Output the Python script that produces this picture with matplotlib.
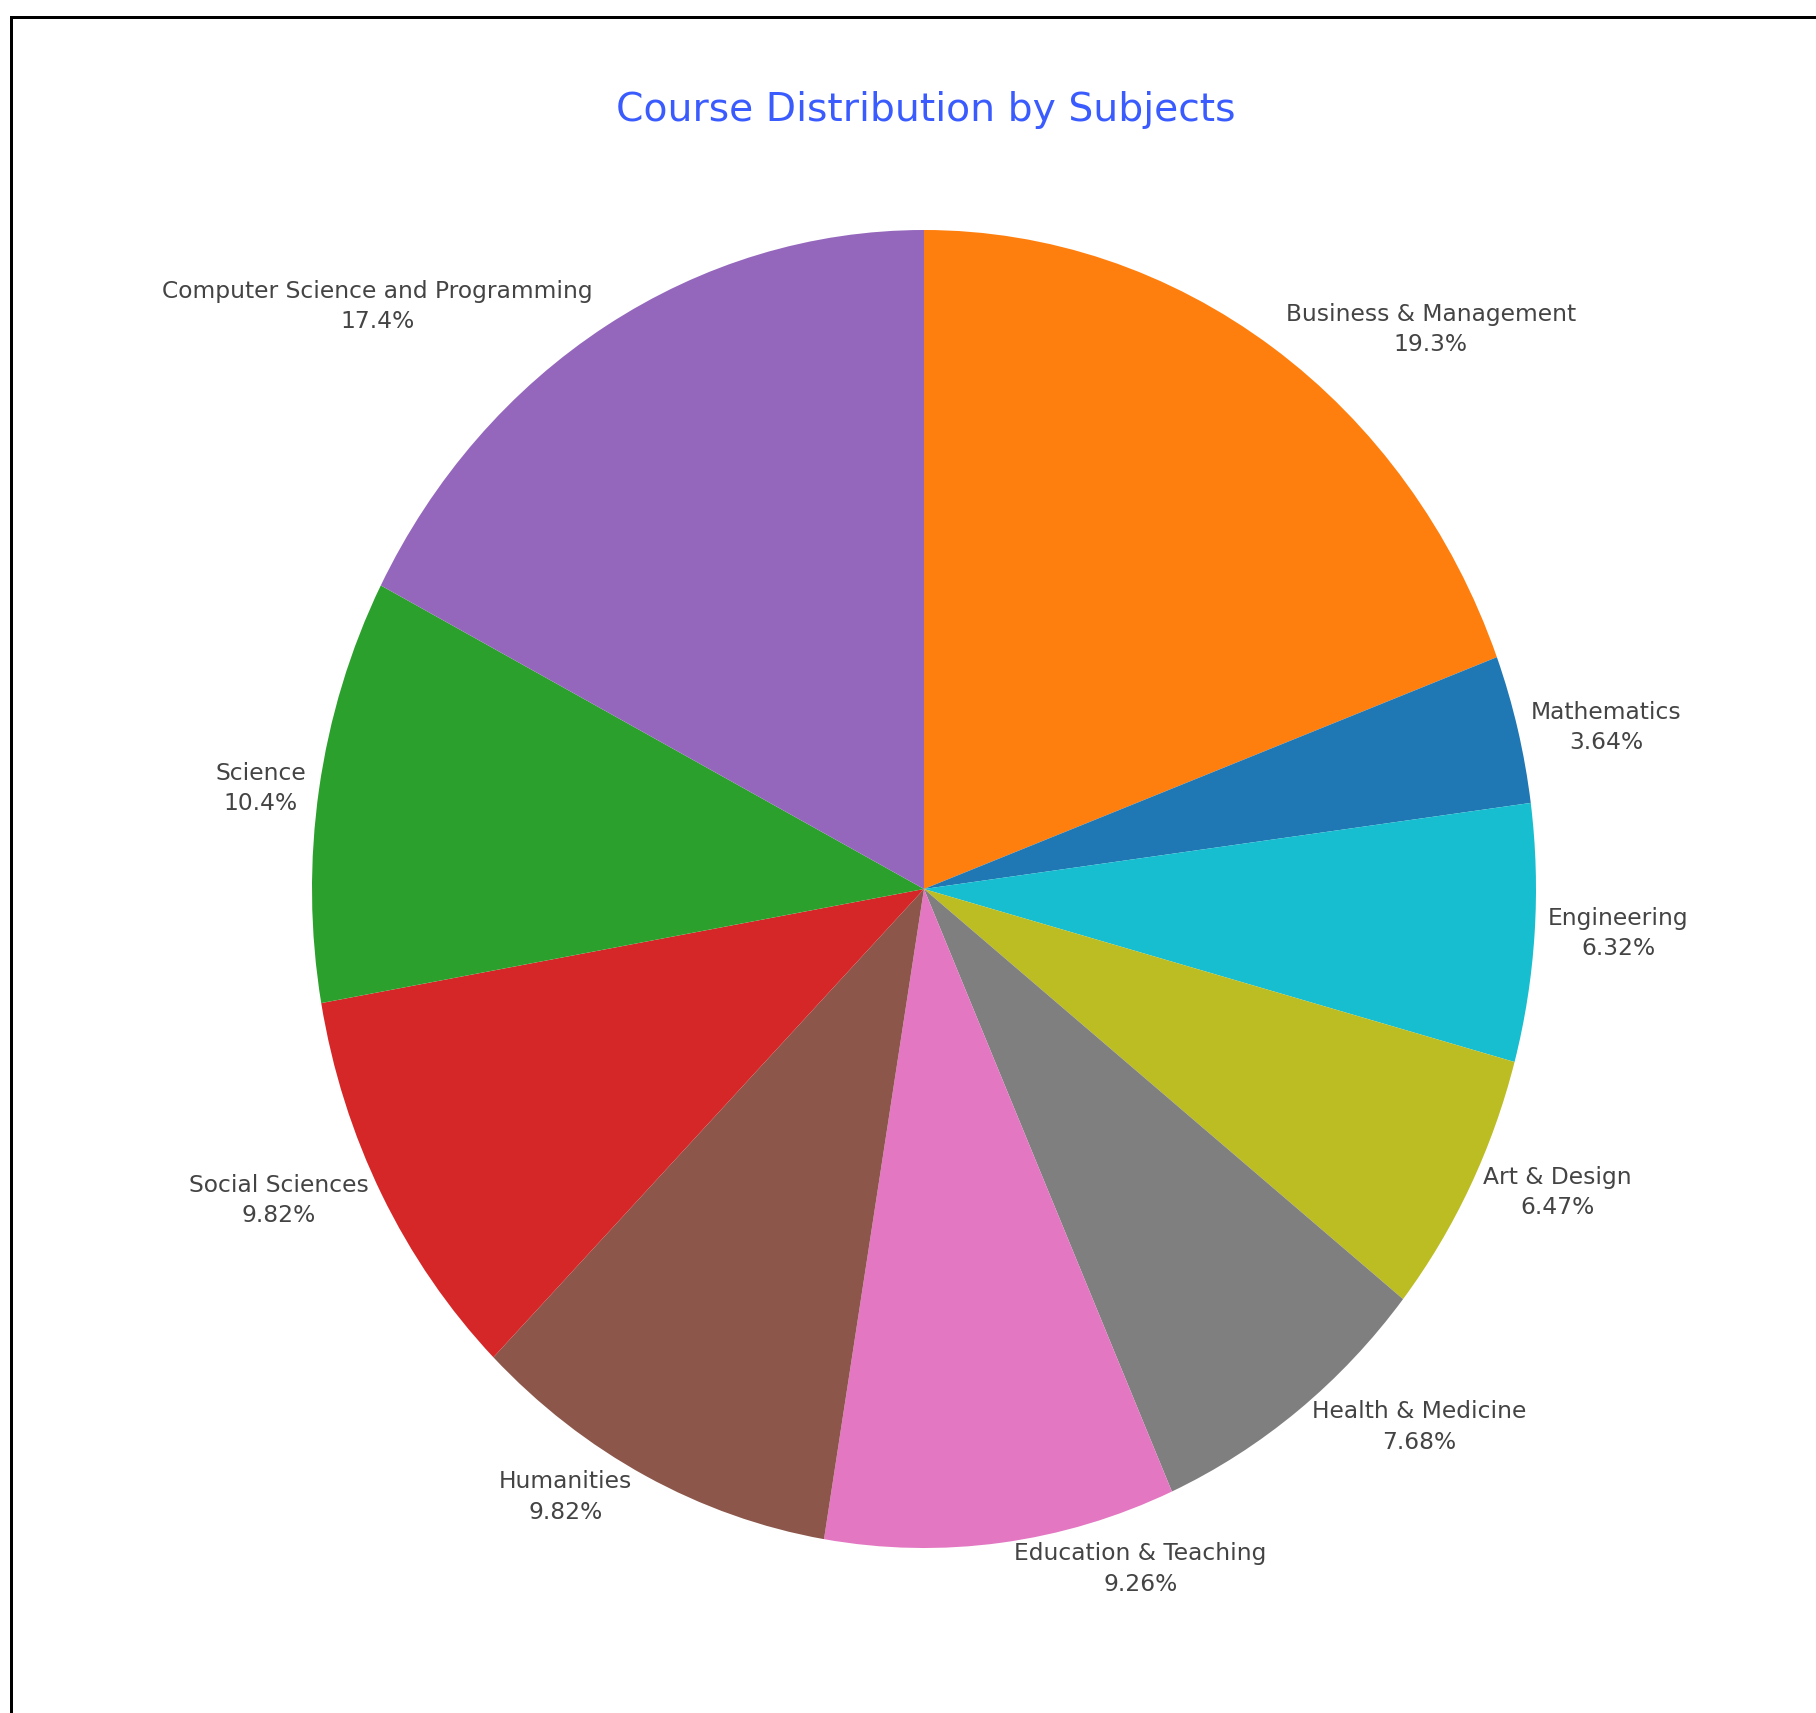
import matplotlib
import numpy as np

matplotlib.use("Agg")
import matplotlib.pyplot as plt
from matplotlib.lines import Line2D

# Slices in clockwise order starting at 12 o'clock
subjects = [
    "Business & Management",
    "Mathematics",
    "Engineering",
    "Art & Design",
    "Health & Medicine",
    "Education & Teaching",
    "Humanities",
    "Social Sciences",
    "Science",
    "Computer Science and Programming",
]
shares = [19.3, 3.64, 6.32, 6.47, 7.68, 9.26, 9.82, 9.82, 10.4, 17.4]
colors = [
    "#ff7f0e", "#1f77b4", "#17becf", "#bcbd22", "#7f7f7f",
    "#e377c2", "#8c564b", "#d62728", "#2ca02c", "#9467bd",
]

W, H, DPI = 1816, 1713, 100
fig = plt.figure(figsize=(W / DPI, H / DPI), dpi=DPI)

# Pie centre and radii in pixels (the reference is slightly stretched vertically)
cx, cy = 924, 889
rx, ry = 612, 659
ax = fig.add_axes([(cx - rx) / W, (H - cy - ry) / H, 2 * rx / W, 2 * ry / H])

wedges, _ = ax.pie(
    shares,
    colors=colors,
    startangle=90,
    counterclock=False,
    wedgeprops=dict(linewidth=0),
)
ax.set_xlim(-1, 1)
ax.set_ylim(-1, 1)
ax.set_aspect("auto")
ax.axis("off")

# Outside labels, positioned like plotly's outside text
renderer = fig.canvas.get_renderer()
for w, name, val in zip(wedges, subjects, shares):
    theta = np.deg2rad((w.theta1 + w.theta2) / 2)
    c, s = np.cos(theta), np.sin(theta)
    txt = ax.annotate(
        f"{name}\n{val:.3g}%",
        xy=(c, s), xycoords="data",
        xytext=(0, 0), textcoords="offset pixels",
        ha="center", va="center", fontsize=16.8, color="#444444",
        linespacing=1.4, annotation_clip=False,
    )
    bb = txt.get_window_extent(renderer)
    tw, th = bb.width, bb.height
    dx = (tw / 2 + th / 4) * (1 if c >= 0 else -1)
    dy = (th / 2) * s * s * (1 if s >= 0 else -1)
    txt.set_position((dx, dy))

fig.text(0.5095, 1 - 110 / H, "Course Distribution by Subjects",
         ha="center", va="center", fontsize=28.3, color="#3a5cff")

# Frame (cut off at right and bottom as in the reference)
lw = 3 * 72 / DPI
fig.add_artist(Line2D([11 / W, 1], [1 - 17 / H, 1 - 17 / H], color="black", lw=lw))
fig.add_artist(Line2D([11 / W, 11 / W], [0, 1 - 17 / H], color="black", lw=lw))

fig.savefig("out.png", dpi=DPI, facecolor="white")
